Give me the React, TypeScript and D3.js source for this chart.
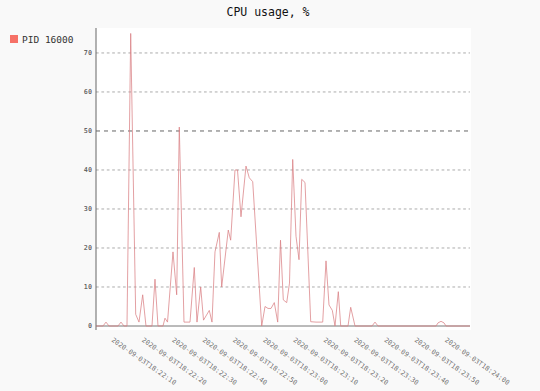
import React from "react";
import * as d3 from "d3";

// seconds after 2020-09-03T18:22:00
const times: number[] = [
  4.72, 7.03, 8.02, 9.01, 11.98, 12.97, 13.96, 14.95, 16.17, 17.82, 18.91, 20.13,
  21.22, 23.2, 24.19, 25.18, 26.83, 27.49, 28.32, 30.13, 31.35, 32.21, 33.76, 35.74,
  37.16, 38.05, 39.27, 40.2, 42.11, 43.0, 43.99, 45.41, 46.2, 48.38, 49.17, 50.59,
  51.42, 52.57, 54.22, 55.31, 56.44, 59.41, 60.5, 61.49, 62.48, 63.56, 64.69, 65.61,
  66.53, 67.66, 68.58, 69.64, 70.73, 71.72, 72.61, 73.7, 75.58, 77.33, 79.54, 80.63,
  81.62, 82.71, 83.6, 84.69, 85.48, 87.89, 88.78, 90.2, 95.81, 96.8, 97.79, 116.93,
  117.59, 118.58, 119.57, 120.23, 128.15,
];
const cpu: number[] = [
  0, 0, 1, 0, 0, 1, 0, 0, 75, 3, 1, 8,
  0, 0, 12, 0, 0, 2, 1, 19, 8, 51, 1, 1,
  15, 1, 10, 1.5, 4, 1, 19, 24, 10, 24.6, 22, 40,
  40, 28, 41, 38, 37, 0, 5, 4.5, 4.5, 6, 1, 22,
  6.7, 6, 11, 42.7, 23, 17, 37.6, 36.8, 1.1, 1, 1, 16.7,
  5.4, 4, 0, 8.8, 0, 0, 4.8, 0, 0, 1, 0, 0,
  0.8, 1.2, 0.8, 0, 0,
];
const xTickSeconds: number[] = [10, 20, 30, 40, 50, 60, 70, 80, 90, 100, 110, 120];
const xTickLabels: string[] = [
  "2020-09-03T18:22:10", "2020-09-03T18:22:20", "2020-09-03T18:22:30",
  "2020-09-03T18:22:40", "2020-09-03T18:22:50", "2020-09-03T18:23:00",
  "2020-09-03T18:23:10", "2020-09-03T18:23:20", "2020-09-03T18:23:30",
  "2020-09-03T18:23:40", "2020-09-03T18:23:50", "2020-09-03T18:24:00",
];
const yTicks: number[] = [0, 10, 20, 30, 40, 50, 60, 70];
const seriesName = "PID 16000";
const title = "CPU usage, %";

const FONT = "'DejaVu Sans Mono', 'Liberation Mono', monospace";

export default function App() {
  const left = 96, right = 470, top = 28, zeroY = 326;
  const x = d3.scaleLinear().domain([4.72, 128.15]).range([left, right]);
  const y = d3.scaleLinear().domain([0, 76.4]).range([zeroY, top]);
  const pts: [number, number][] = times.map((t, i) => [t, cpu[i]]);
  const line = d3
    .line<[number, number]>()
    .x((d) => x(d[0]))
    .y((d) => y(d[1]));

  return (
    <svg
      width={540}
      height={391}
      style={{ position: "absolute", left: 0, top: 0, display: "block" }}
    >
      <rect x={0} y={0} width={540} height={391} fill="#f9f9f9" />
      <rect x={left} y={top} width={right - left + 1} height={zeroY - top + 4} fill="#ffffff" />
      <text x={268} y={16} textAnchor="middle" fontFamily={FONT} fontSize={11.5} fill="#111">
        {title}
      </text>
      {/* legend */}
      <rect x={10} y={35} width={8} height={8} fill="#F44336" opacity={0.75} />
      <text x={22} y={42.5} fontFamily={FONT} fontSize={9.5} fill="#333">
        {seriesName}
      </text>
      {/* y guides */}
      {yTicks.map((v) => (
        <g key={v}>
          {v > 0 && (
            <line
              x1={left}
              x2={right}
              y1={y(v)}
              y2={y(v)}
              stroke={v === 50 ? "#555" : "#888"}
              strokeWidth={v === 50 ? 0.9 : 0.7}
              strokeDasharray={v === 50 ? "4,4" : "2.7,2.7"}
            />
          )}
          <text
            x={92}
            y={y(v) + 2.3}
            textAnchor="end"
            fontFamily={FONT}
            fontSize={6.75}
            fontWeight="bold"
            fill="rgba(0,0,0,0.6)"
          >
            {v}
          </text>
        </g>
      ))}
      {/* axes */}
      <line x1={left} x2={right} y1={zeroY} y2={zeroY} stroke="#777" strokeWidth={1} />
      <line x1={left} x2={left} y1={top} y2={zeroY + 4} stroke="#666" strokeWidth={1} />
      {/* x labels */}
      {xTickSeconds.map((s, i) => {
        const px = x(s) - 1;
        const py = 341;
        return (
          <text
            key={s}
            x={px}
            y={py}
            transform={`rotate(35 ${px} ${py})`}
            fontFamily={FONT}
            fontSize={6.75}
            fill="rgba(0,0,0,0.6)"
          >
            {xTickLabels[i]}
          </text>
        );
      })}
      {/* series */}
      <path
        d={line(pts) || ""}
        fill="none"
        stroke="#d98084"
        strokeOpacity={0.75}
        strokeWidth={1}
        strokeLinejoin="round"
      />
    </svg>
  );
}
